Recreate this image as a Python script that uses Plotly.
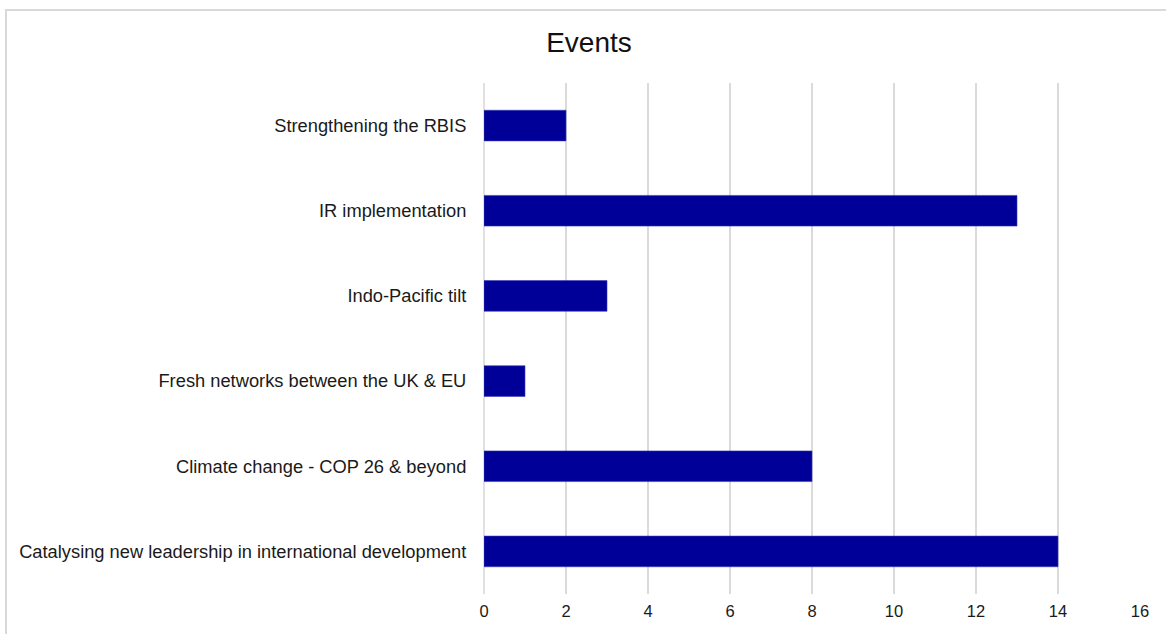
import plotly.graph_objects as go

categories = [
    "Strengthening the RBIS",
    "IR implementation",
    "Indo-Pacific tilt",
    "Fresh networks between the UK & EU",
    "Climate change - COP 26 & beyond",
    "Catalysing new leadership in international development",
]
values = [2, 13, 3, 1, 8, 14]
x_ticks = [0, 2, 4, 6, 8, 10, 12, 14, 16]

W, H = 1166, 634
L, R, T, B = 484, 26, 83, 40
pw, ph = W - L - R, H - T - B
GRID = "#dadada"

fig = go.Figure(go.Bar(
    x=values, y=categories, orientation="h",
    marker=dict(color="#000099", line=dict(color="#3a3ab8", width=0.6)),
    width=0.36,
))

fig.update_layout(
    width=W, height=H,
    margin=dict(l=L, r=R, t=T, b=B, pad=0),
    paper_bgcolor="white", plot_bgcolor="white",
    font=dict(family="Liberation Sans, Arial, sans-serif", size=18, color="#1a1a1a"),
    title=dict(text="Events", x=589 / W, xref="container", xanchor="center",
               y=1 - 42 / H, yanchor="middle", font=dict(size=28, color="#111")),
    showlegend=False,
    bargap=0.64,
)
fig.update_xaxes(range=[0, 16], tickvals=x_ticks, showgrid=True, gridcolor=GRID, gridwidth=1.6,
                 zeroline=False, showline=False, ticks="outside", ticklen=2, tickcolor="rgba(0,0,0,0)",
                 tickfont=dict(size=16.5), fixedrange=True)
fig.update_yaxes(autorange="reversed", showgrid=False, zeroline=False, showline=False,
                 ticks="outside", ticklen=13, tickcolor="rgba(0,0,0,0)", tickfont=dict(size=18.3),
                 fixedrange=True)
# left zero gridline
fig.add_shape(type="line", xref="paper", yref="paper", x0=0, x1=0, y0=0, y1=1,
              line=dict(color=GRID, width=1.6), layer="below")
# outer frame (cropped on right/bottom)
fig.add_shape(type="rect", xref="paper", yref="paper",
              x0=(6 - L) / pw, x1=(W + 20 - L) / pw,
              y0=-(B + 20) / ph, y1=(H - B - 10) / ph,
              line=dict(color="#d9d9d9", width=2), fillcolor="rgba(0,0,0,0)", layer="below")

fig.write_html("out.html", config={"displayModeBar": False},
               post_script="document.body.style.margin='0px';document.body.style.overflow='hidden';")
